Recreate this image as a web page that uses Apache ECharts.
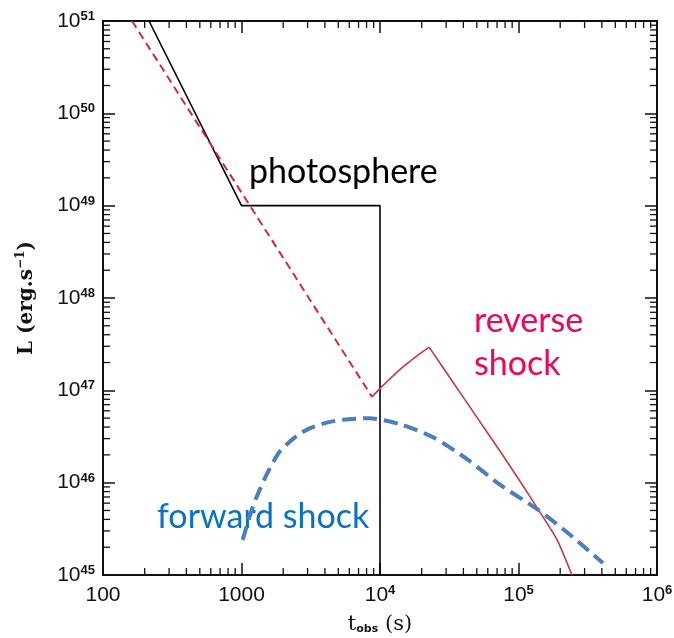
<!DOCTYPE html>
<html>
<head>
<meta charset="utf-8">
<script src="https://cdn.jsdelivr.net/npm/echarts@6/dist/echarts.min.js"></script>
<style>
  html, body { margin: 0; padding: 0; background: #fff; }
  #chart { width: 674px; height: 638px; }
</style>
</head>
<body>
<div id="chart"></div>
<script>
// axis ranges (log10 decades)
const xMin = 100, xMax = 1e6;
const yMin = 1e45, yMax = 1e51;

// tick labels, indexed by exponent
const xTickLabels = { 2: '100', 3: '1000', 4: '10^4', 5: '10^5', 6: '10^6' };
const yTickLabels = { 45: '10^45', 46: '10^46', 47: '10^47', 48: '10^48', 49: '10^49', 50: '10^50', 51: '10^51' };

// curves: [t_obs (s), L (erg/s)]
const photosphere = [[215, 1e51], [1000, 1e49], [10000, 1e49], [10000, 1e45]];
const reverseEarly = [[162, 1e51], [8750, 8.5e46]];
const reverseRise = [[8750, 8.5e46], [10000, 1.05e47], [13900, 1.68e47], [18500, 2.36e47], [22600, 2.94e47]];
const reverseDecay = [
    [22600, 2.94e47], [33000, 1.28e47], [50100, 5.1e46], [73500, 2.2e46],
    [105000, 9.8e45], [138000, 5.2e45], [190000, 2.4e45], [243000, 1e45]
];
const forwardShock = [
    [1020, 2.4e45], [1150, 4.4e45], [1290, 7.1e45], [1550, 1.3e46], [1900, 2.2e46],
    [2500, 3.2e46], [3130, 3.9e46], [4200, 4.5e46], [5400, 4.8e46], [8300, 5.0e46],
    [13900, 4.3e46], [24200, 3.1e46], [42500, 1.8e46], [73500, 9.5e45],
    [138000, 5.1e45], [224000, 2.9e45], [407000, 1.35e45]
];

// minor tick positions (2..9 of each decade)
const xMinor = [];
for (let d = 100; d < xMax; d *= 10) {
    for (let m = 2; m <= 9; m++) xMinor.push([m * d, yMin]);
}
const yMinor = [];
for (let d = 1e45; d < yMax * 0.99; d *= 10) {
    for (let m = 2; m <= 9; m++) yMinor.push([xMin, m * d]);
}

function supLabel(s) {
    const parts = s.split('^');
    return parts.length > 1 ? '{n|' + parts[0] + '}{s|' + parts[1] + '}' : '{n|' + s + '}';
}

const labelRich = {
    n: { fontFamily: 'Liberation Sans', fontSize: 21, color: '#111', lineHeight: 22 },
    s: { fontFamily: 'Liberation Sans', fontSize: 13, fontWeight: 'bold', color: '#111', verticalAlign: 'top', lineHeight: 22 }
};

const axisLine = { show: true, onZero: false, lineStyle: { color: '#111', width: 2 } };
const majorTick = { show: true, inside: true, length: 12, lineStyle: { color: '#111', width: 1.5 } };

function minorTicks(isX) {
    return function (params, api) {
        const len = 7;
        const style = { stroke: '#111', lineWidth: 1.3 };
        if (isX) {
            const v = api.value(0);
            const b = api.coord([v, yMin]);
            const t = api.coord([v, yMax]);
            return {
                type: 'group', children: [
                    { type: 'line', shape: { x1: b[0], y1: b[1], x2: b[0], y2: b[1] - len }, style: style },
                    { type: 'line', shape: { x1: t[0], y1: t[1], x2: t[0], y2: t[1] + len }, style: style }
                ]
            };
        }
        const v = api.value(1);
        const l = api.coord([xMin, v]);
        const r = api.coord([xMax, v]);
        return {
            type: 'group', children: [
                { type: 'line', shape: { x1: l[0], y1: l[1], x2: l[0] + len, y2: l[1] }, style: style },
                { type: 'line', shape: { x1: r[0], y1: r[1], x2: r[0] - len, y2: r[1] }, style: style }
            ]
        };
    };
}

const chart = echarts.init(document.getElementById('chart'));

chart.setOption({
    animation: false,
    backgroundColor: '#fff',
    grid: { left: 103, right: 17, top: 21, bottom: 63, outerBoundsMode: 'none', containLabel: false },
    xAxis: [
        {
            type: 'log', logBase: 10, min: xMin, max: xMax, position: 'bottom',
            axisLine: axisLine, axisTick: majorTick, splitLine: { show: false },
            axisLabel: {
                margin: 9,
                formatter: v => supLabel(xTickLabels[Math.round(Math.log10(v))] || ''),
                rich: labelRich
            },
            name: '{n|t}{b|obs}{n| (s)}',
            nameLocation: 'middle',
            nameGap: 39,
            nameTextStyle: {
                rich: {
                    n: { fontFamily: 'DejaVu Serif', fontSize: 21, color: '#111' },
                    b: { fontFamily: 'DejaVu Sans', fontSize: 11, fontWeight: 'bold', color: '#111', verticalAlign: 'bottom', padding: [9, 0, 0, 0] }
                }
            }
        },
        {
            type: 'log', logBase: 10, min: xMin, max: xMax, position: 'top',
            axisLine: axisLine, axisTick: majorTick, splitLine: { show: false },
            axisLabel: { show: false }
        }
    ],
    yAxis: [
        {
            type: 'log', logBase: 10, min: yMin, max: yMax, position: 'left',
            axisLine: axisLine, axisTick: majorTick, splitLine: { show: false },
            axisLabel: {
                margin: 8,
                formatter: v => supLabel(yTickLabels[Math.round(Math.log10(v))] || ''),
                rich: labelRich
            },
            name: '{n|L (erg.s}{s|−1}{n|)}',
            nameLocation: 'middle',
            nameGap: 64,
            nameTextStyle: {
                rich: {
                    n: { fontFamily: 'DejaVu Serif', fontSize: 20, fontWeight: 'bold', color: '#111', lineHeight: 24 },
                    s: { fontFamily: 'DejaVu Serif', fontSize: 12, fontWeight: 'bold', color: '#111', verticalAlign: 'top', lineHeight: 24 }
                }
            }
        },
        {
            type: 'log', logBase: 10, min: yMin, max: yMax, position: 'right',
            axisLine: axisLine, axisTick: majorTick, splitLine: { show: false },
            axisLabel: { show: false }
        }
    ],
    series: [
        {
            type: 'custom', renderItem: minorTicks(true), data: xMinor, silent: true, z: 1
        },
        {
            type: 'custom', renderItem: minorTicks(false), data: yMinor, silent: true, z: 1
        },
        {
            name: 'photosphere', type: 'line', data: photosphere, showSymbol: false,
            lineStyle: { color: '#000', width: 1.6 }, z: 3
        },
        {
            name: 'reverse early', type: 'line', data: reverseEarly, showSymbol: false,
            lineStyle: { color: '#d42a33', width: 2, type: [8, 5] }, z: 3
        },
        {
            name: 'reverse rise', type: 'line', data: reverseRise, showSymbol: false, smooth: 0.2,
            lineStyle: { color: '#c8383c', width: 1.6 }, z: 3
        },
        {
            name: 'reverse decay', type: 'line', data: reverseDecay, showSymbol: false, smooth: 0.2,
            lineStyle: { color: '#c8383c', width: 1.6 }, z: 3
        },
        {
            name: 'forward shock', type: 'line', data: forwardShock, showSymbol: false, smooth: 0.25,
            lineStyle: { color: '#4a7ebf', width: 4, type: [14, 7] }, z: 4
        }
    ],
    graphic: [
        {
            type: 'text', left: 249, top: 155,
            style: { text: 'photosphere', fill: '#000', font: '34px Lato' }
        },
        {
            type: 'text', left: 474, top: 304,
            style: { text: 'reverse', fill: '#f0045c', font: '34px Lato' }
        },
        {
            type: 'text', left: 474, top: 347,
            style: { text: 'shock', fill: '#f0045c', font: '34px Lato' }
        },
        {
            type: 'text', left: 157, top: 500,
            style: { text: 'forward shock', fill: '#0a72c2', font: '34px Lato' }
        }
    ]
});
</script>
</body>
</html>
